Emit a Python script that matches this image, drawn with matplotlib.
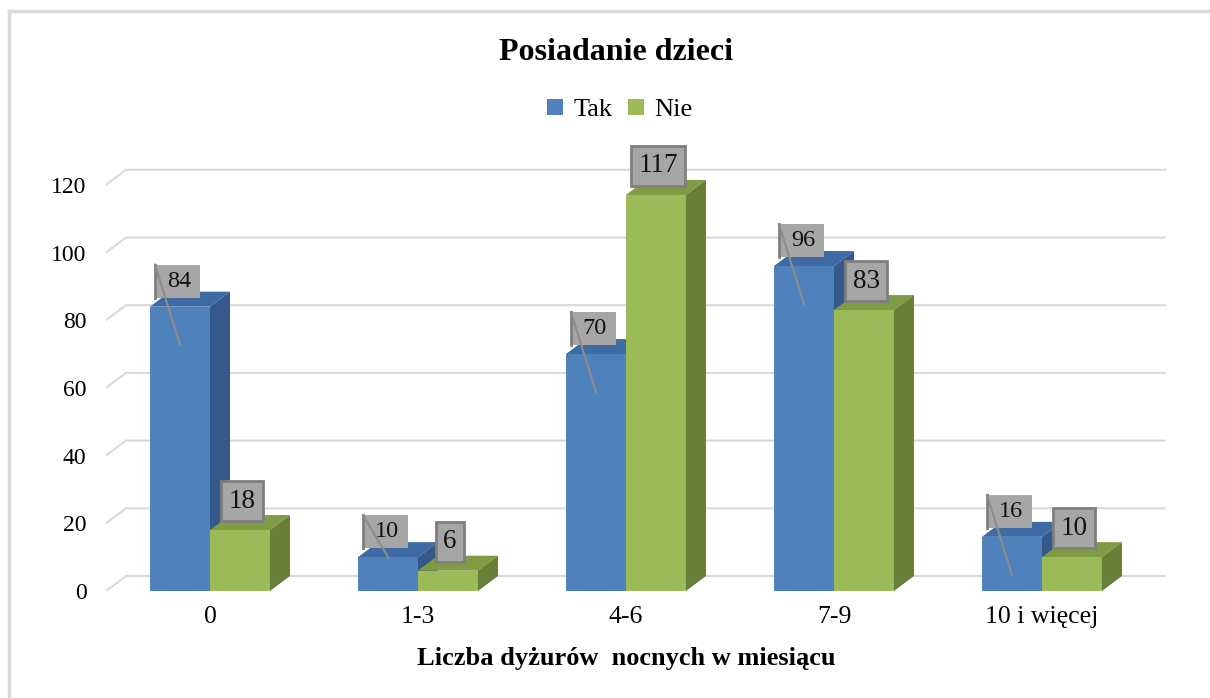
import matplotlib.pyplot as plt
from matplotlib.patches import Rectangle, Polygon
from matplotlib.lines import Line2D

plt.rcParams['font.family'] = ['Liberation Serif', 'DejaVu Serif']

categories = ['0', '1-3', '4-6', '7-9', '10 i więcej']
tak = [84, 10, 70, 96, 16]
nie = [18, 6, 117, 83, 10]
yticks = [0, 20, 40, 60, 80, 100, 120]

W, H = 1210, 698
fig = plt.figure(figsize=(W / 100, H / 100), dpi=100)

# pixel geometry of the plot area
x_left, y_zero, y_top = 106, 591, 160
cat_px = 208.0          # pixels per category
val_px = 3.385          # pixels per unit
PX = 1 / cat_px         # one pixel in x data units
PY = 1 / val_px         # one pixel in y data units
DX, DY = 20 * PX, 15 * PY   # depth offset of the 3d look
bw = 60 * PX

xmax = 4.5 + DX
ymax = (y_zero - y_top) * PY
ax = fig.add_axes([x_left / W, (H - y_zero) / H,
                   (xmax + 0.5) * cat_px / W, (y_zero - y_top) / H])
ax.set_xlim(-0.5, xmax)
ax.set_ylim(0, ymax)
for s in ax.spines.values():
    s.set_visible(False)

# back wall gridlines with the slanted floor edge on the left
grid_c = '#d9d9d9'
for v in yticks:
    ax.plot([-0.5, -0.5 + DX, xmax], [v, v + DY, v + DY], color=grid_c,
            lw=1.5, zorder=0, solid_capstyle='butt')

ax.set_yticks(yticks)
ax.set_xticks(range(len(categories)))
ax.set_xticklabels(categories)
ax.tick_params(axis='y', length=0, pad=14, labelsize=17)
ax.tick_params(axis='x', length=0, pad=11, labelsize=18.5)


def bar3d(x0, h, front, top, side, z):
    ax.add_patch(Polygon([(x0, h), (x0 + DX, h + DY), (x0 + bw + DX, h + DY),
                          (x0 + bw, h)], closed=True, fc=top, ec='none', zorder=z))
    ax.add_patch(Polygon([(x0 + bw, 0), (x0 + bw + DX, DY), (x0 + bw + DX, h + DY),
                          (x0 + bw, h)], closed=True, fc=side, ec='none', zorder=z))
    ax.add_patch(Rectangle((x0, 0), bw, h, fc=front, ec='none', zorder=z))


for i in range(len(categories)):
    bar3d(i - bw, tak[i], '#4f81bd', '#3e6ba3', '#34598a', 2 + i * 0.1)
    bar3d(i, nie[i], '#9bbb59', '#7f9c45', '#677f37', 2.05 + i * 0.1)

# data labels
box_c = '#a6a6a6'
lead_c = '#8c8c8c'
for i in range(len(categories)):
    t = tak[i]
    cx = i - bw / 2 - 2 * PX
    bx0, bw_lab, bh = cx - 22 * PX, 44 * PX, 33 * PY
    by0 = t + 9 * PY
    ax.add_patch(Rectangle((bx0, by0), bw_lab, bh, fc=box_c, ec='none', zorder=5))
    ax.text(cx + PX, by0 + bh / 2, str(t), ha='center', va='center', fontsize=17.5,
            color='#111111', zorder=6)
    end_y = t - 38 * PY if t * val_px > 50 else t
    ax.plot([bx0 - PX, bx0 - PX], [by0, by0 + bh], color='#7f7f7f', lw=2, zorder=6)
    ax.plot([bx0 - PX, i - bw / 2], [by0 + bh, end_y], color=lead_c, lw=1.5, zorder=6)

    n = nie[i]
    ax.text(i + bw / 2 + 2 * PX, n + 29 * PY, str(n), ha='center', va='center',
            fontsize=19.5, color='#111111', zorder=6,
            bbox=dict(boxstyle='square,pad=0.27', fc=box_c, ec='#7f7f7f', lw=2))

fig.text(616 / W, 1 - 52 / H, 'Posiadanie dzieci', ha='center', va='center',
         fontsize=23, fontweight='bold')
fig.text(626 / W, 1 - 658 / H, 'Liczba dyżurów  nocnych w miesiącu', ha='center',
         va='center', fontsize=19, fontweight='bold')

handles = [Rectangle((0, 0), 1, 1, fc='#4f81bd'), Rectangle((0, 0), 1, 1, fc='#9bbb59')]
fig.legend(handles, ['Tak', 'Nie'], loc='center', bbox_to_anchor=(620 / W, 1 - 110 / H),
           ncol=2, frameon=False, fontsize=19, handlelength=0.6, handleheight=0.6,
           handletextpad=0.4, columnspacing=0.6)

# light chart frame along top and left
fig.add_artist(Line2D([9 / W, 1], [1 - 11 / H, 1 - 11 / H], color='#d9d9d9', lw=2.5))
fig.add_artist(Line2D([9 / W, 9 / W], [0, 1 - 11 / H], color='#d9d9d9', lw=2.5))

fig.savefig('out.png', dpi=100)
